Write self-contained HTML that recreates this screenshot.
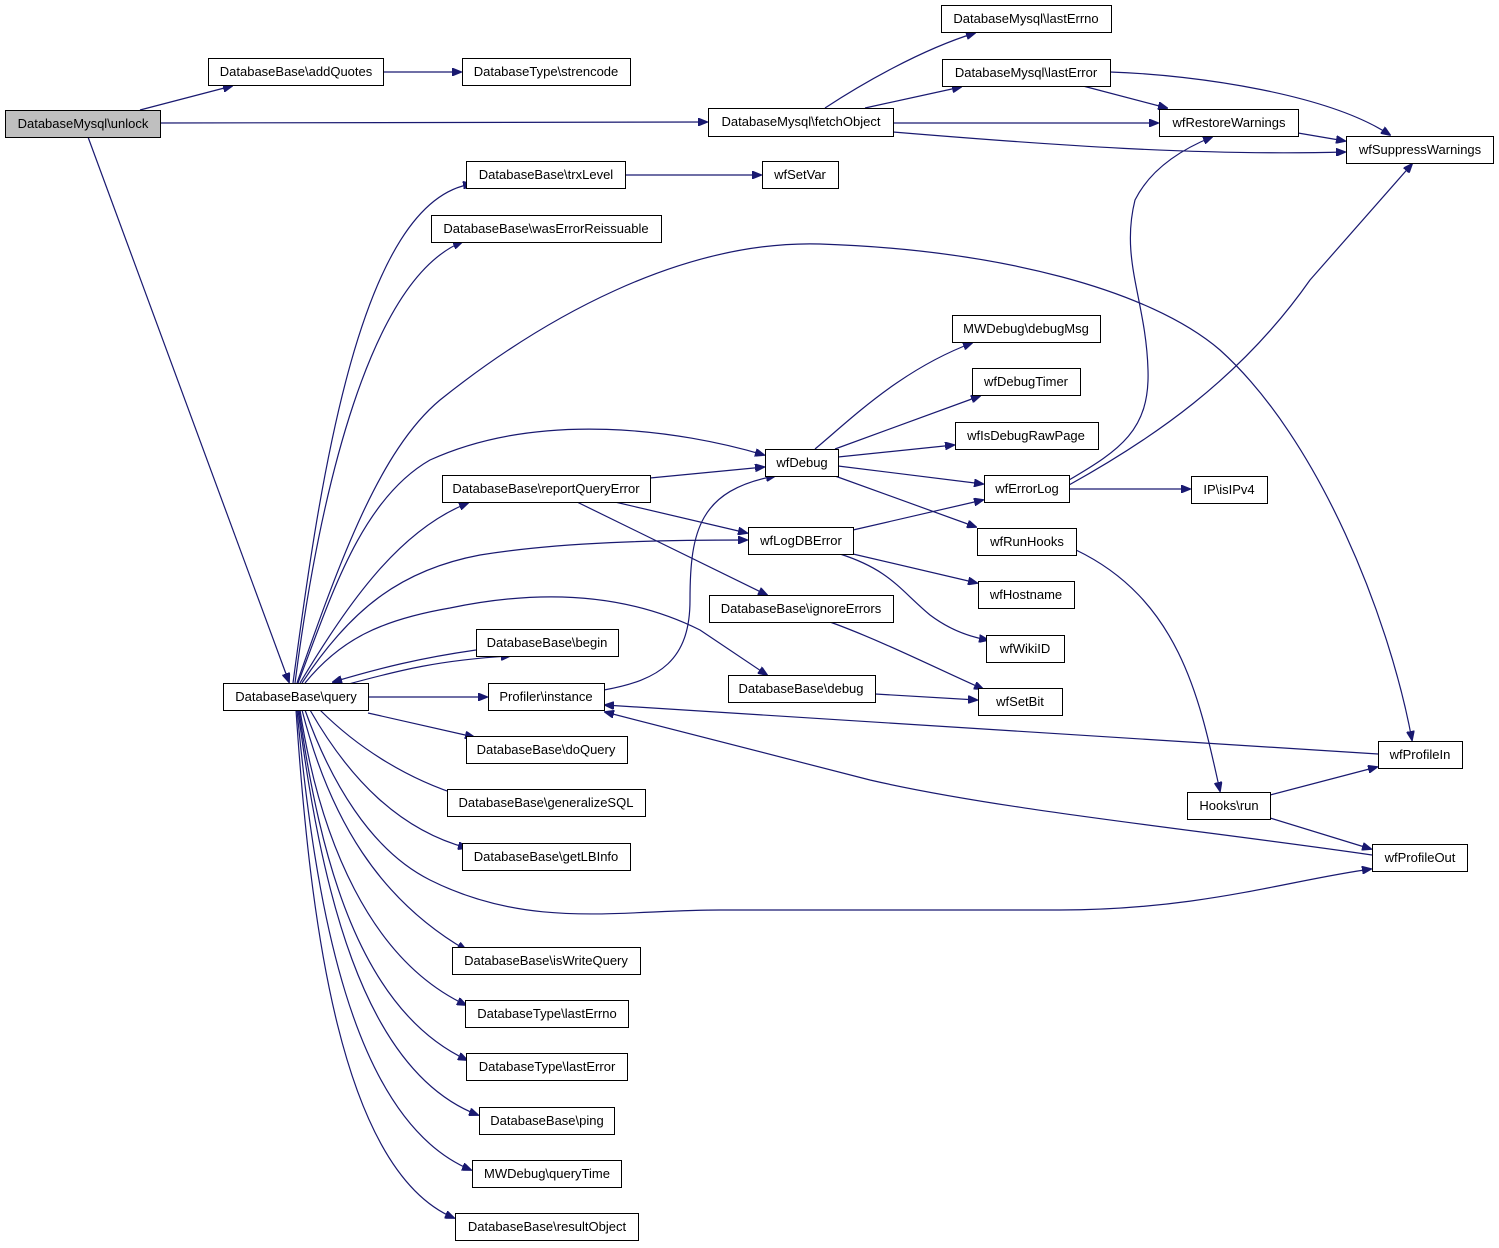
<!DOCTYPE html>
<html><head><meta charset="utf-8"><style>
html,body{margin:0;padding:0;background:#fff;}
svg{display:block;}
text{font-family:"Liberation Sans",sans-serif;font-size:13px;fill:#000;}
.n{fill:#fff;stroke:#000;stroke-width:1;}
.e{fill:none;stroke:#191970;stroke-width:1.2;}
</style></head><body>
<svg width="1499" height="1248" viewBox="0 0 1499 1248" xmlns="http://www.w3.org/2000/svg">
<defs><marker id="a" markerWidth="10" markerHeight="8" refX="9" refY="4" orient="auto" markerUnits="userSpaceOnUse"><path d="M0,0 L10,4 L0,8 z" fill="#191970" stroke="#191970"/></marker></defs>
<g class="e" marker-end="url(#a)">
<path d="M140,110 L232,86"/>
<path d="M383,72 L461,72"/>
<path d="M160,123 L707,122"/>
<path d="M88,137 L289,682"/>
<path d="M825,108 C860,85 920,50 975,33"/>
<path d="M865,108 L961,87"/>
<path d="M893,123 L1158,123"/>
<path d="M893,132 C1050,145 1200,156 1345,152"/>
<path d="M1083,86 L1167,108"/>
<path d="M1110,72 C1200,75 1330,95 1390,135"/>
<path d="M1298,133 L1345,141"/>
<path d="M625,175 L761,175"/>
<path d="M293,683 C320,480 360,200 472,184"/>
<path d="M295,683 C320,490 370,280 462,242"/>
<path d="M297,683 C340,560 380,450 440,400 C540,320 680,240 820,244 C1000,250 1150,290 1220,350 C1320,440 1390,620 1412,740"/>
<path d="M298,683 C330,600 360,500 430,460 C540,410 680,430 764,455"/>
<path d="M300,683 C350,600 400,530 468,503"/>
<path d="M302,683 C350,610 400,570 480,555 C560,542 660,540 747,540"/>
<path d="M305,683 C340,640 380,620 450,608 C560,585 640,600 700,630 L767,675"/>
<path d="M345,685 C400,670 440,660 510,656"/>
<path d="M476,650 C420,658 380,668 333,682"/>
<path d="M368,697 L487,697"/>
<path d="M368,713 L474,737"/>
<path d="M320,710 C360,750 410,780 462,796"/>
<path d="M310,710 C350,780 400,830 467,848"/>
<path d="M305,710 C330,780 370,850 430,880 C530,930 620,910 720,910 L1060,910 C1200,910 1290,880 1371,869"/>
<path d="M302,710 C330,820 380,900 466,950"/>
<path d="M300,710 C320,840 370,960 466,1005"/>
<path d="M299,710 C320,860 360,1010 467,1060"/>
<path d="M298,710 C320,880 360,1070 478,1115"/>
<path d="M297,710 C315,900 350,1120 471,1170"/>
<path d="M296,710 C310,920 340,1170 454,1218"/>
<path d="M650,478 L764,467"/>
<path d="M615,502 L747,533"/>
<path d="M577,502 L767,595"/>
<path d="M604,690 C660,680 690,660 690,600 C690,530 700,490 775,476"/>
<path d="M815,449 C850,420 900,370 972,343"/>
<path d="M835,449 L980,396"/>
<path d="M838,457 L954,445"/>
<path d="M838,466 L983,484"/>
<path d="M835,476 L976,527"/>
<path d="M853,530 L983,500"/>
<path d="M853,554 L977,583"/>
<path d="M840,554 C890,570 900,590 930,615 C950,630 970,637 988,640"/>
<path d="M1069,489 L1190,489"/>
<path d="M1069,480 C1120,450 1150,430 1148,370 C1146,300 1120,260 1135,200 C1150,170 1180,150 1212,137"/>
<path d="M1069,485 C1150,440 1240,380 1310,280 L1412,164"/>
<path d="M830,622 C880,640 940,670 983,689"/>
<path d="M875,694 L977,700"/>
<path d="M1076,550 C1180,600 1200,700 1220,791"/>
<path d="M1270,795 L1377,767"/>
<path d="M1270,818 L1371,849"/>
<path d="M1378,754 L605,705"/>
<path d="M1372,855 C1200,830 1000,810 870,780 L605,712"/>
</g>
<g>
<rect class="n" x="5.5" y="110.5" width="155" height="27" style="fill:#bfbfbf"/><text x="83" y="128" text-anchor="middle">DatabaseMysql\unlock</text>
<rect class="n" x="208.5" y="58.5" width="175" height="27"/><text x="296" y="76" text-anchor="middle">DatabaseBase\addQuotes</text>
<rect class="n" x="462.5" y="58.5" width="168" height="27"/><text x="546" y="76" text-anchor="middle">DatabaseType\strencode</text>
<rect class="n" x="941.5" y="5.5" width="170" height="27"/><text x="1026" y="23" text-anchor="middle">DatabaseMysql\lastErrno</text>
<rect class="n" x="942.5" y="59.5" width="168" height="27"/><text x="1026" y="77" text-anchor="middle">DatabaseMysql\lastError</text>
<rect class="n" x="708.5" y="108.5" width="185" height="28"/><text x="801" y="126" text-anchor="middle">DatabaseMysql\fetchObject</text>
<rect class="n" x="1159.5" y="109.5" width="139" height="27"/><text x="1229" y="127" text-anchor="middle">wfRestoreWarnings</text>
<rect class="n" x="1346.5" y="136.5" width="147" height="27"/><text x="1420" y="154" text-anchor="middle">wfSuppressWarnings</text>
<rect class="n" x="466.5" y="161.5" width="159" height="27"/><text x="546" y="179" text-anchor="middle">DatabaseBase\trxLevel</text>
<rect class="n" x="762.5" y="161.5" width="76" height="27"/><text x="800" y="179" text-anchor="middle">wfSetVar</text>
<rect class="n" x="431.5" y="215.5" width="230" height="27"/><text x="546" y="233" text-anchor="middle">DatabaseBase\wasErrorReissuable</text>
<rect class="n" x="952.5" y="315.5" width="148" height="27"/><text x="1026" y="333" text-anchor="middle">MWDebug\debugMsg</text>
<rect class="n" x="972.5" y="368.5" width="108" height="27"/><text x="1026" y="386" text-anchor="middle">wfDebugTimer</text>
<rect class="n" x="955.5" y="422.5" width="143" height="27"/><text x="1026" y="440" text-anchor="middle">wfIsDebugRawPage</text>
<rect class="n" x="765.5" y="449.5" width="73" height="27"/><text x="802" y="467" text-anchor="middle">wfDebug</text>
<rect class="n" x="442.5" y="475.5" width="208" height="27"/><text x="546" y="493" text-anchor="middle">DatabaseBase\reportQueryError</text>
<rect class="n" x="984.5" y="475.5" width="85" height="27"/><text x="1027" y="493" text-anchor="middle">wfErrorLog</text>
<rect class="n" x="1191.5" y="476.5" width="76" height="27"/><text x="1229" y="494" text-anchor="middle">IP\isIPv4</text>
<rect class="n" x="748.5" y="527.5" width="105" height="27"/><text x="801" y="545" text-anchor="middle">wfLogDBError</text>
<rect class="n" x="977.5" y="528.5" width="99" height="27"/><text x="1027" y="546" text-anchor="middle">wfRunHooks</text>
<rect class="n" x="978.5" y="581.5" width="96" height="27"/><text x="1026" y="599" text-anchor="middle">wfHostname</text>
<rect class="n" x="709.5" y="595.5" width="184" height="27"/><text x="801" y="613" text-anchor="middle">DatabaseBase\ignoreErrors</text>
<rect class="n" x="986.5" y="635.5" width="78" height="27"/><text x="1025" y="653" text-anchor="middle">wfWikiID</text>
<rect class="n" x="476.5" y="629.5" width="142" height="27"/><text x="547" y="647" text-anchor="middle">DatabaseBase\begin</text>
<rect class="n" x="223.5" y="683.5" width="145" height="27"/><text x="296" y="701" text-anchor="middle">DatabaseBase\query</text>
<rect class="n" x="488.5" y="683.5" width="116" height="27"/><text x="546" y="701" text-anchor="middle">Profiler\instance</text>
<rect class="n" x="728.5" y="675.5" width="147" height="27"/><text x="801" y="693" text-anchor="middle">DatabaseBase\debug</text>
<rect class="n" x="978.5" y="688.5" width="84" height="27"/><text x="1020" y="706" text-anchor="middle">wfSetBit</text>
<rect class="n" x="1378.5" y="741.5" width="84" height="27"/><text x="1420" y="759" text-anchor="middle">wfProfileIn</text>
<rect class="n" x="466.5" y="736.5" width="161" height="27"/><text x="546" y="754" text-anchor="middle">DatabaseBase\doQuery</text>
<rect class="n" x="1187.5" y="792.5" width="83" height="27"/><text x="1229" y="810" text-anchor="middle">Hooks\run</text>
<rect class="n" x="447.5" y="789.5" width="198" height="27"/><text x="546" y="807" text-anchor="middle">DatabaseBase\generalizeSQL</text>
<rect class="n" x="462.5" y="843.5" width="168" height="27"/><text x="546" y="861" text-anchor="middle">DatabaseBase\getLBInfo</text>
<rect class="n" x="1372.5" y="844.5" width="95" height="27"/><text x="1420" y="862" text-anchor="middle">wfProfileOut</text>
<rect class="n" x="452.5" y="947.5" width="188" height="27"/><text x="546" y="965" text-anchor="middle">DatabaseBase\isWriteQuery</text>
<rect class="n" x="465.5" y="1000.5" width="163" height="27"/><text x="547" y="1018" text-anchor="middle">DatabaseType\lastErrno</text>
<rect class="n" x="466.5" y="1053.5" width="161" height="27"/><text x="547" y="1071" text-anchor="middle">DatabaseType\lastError</text>
<rect class="n" x="479.5" y="1107.5" width="135" height="27"/><text x="547" y="1125" text-anchor="middle">DatabaseBase\ping</text>
<rect class="n" x="472.5" y="1160.5" width="149" height="27"/><text x="547" y="1178" text-anchor="middle">MWDebug\queryTime</text>
<rect class="n" x="455.5" y="1213.5" width="183" height="27"/><text x="547" y="1231" text-anchor="middle">DatabaseBase\resultObject</text>
</g>
</svg>
</body></html>
